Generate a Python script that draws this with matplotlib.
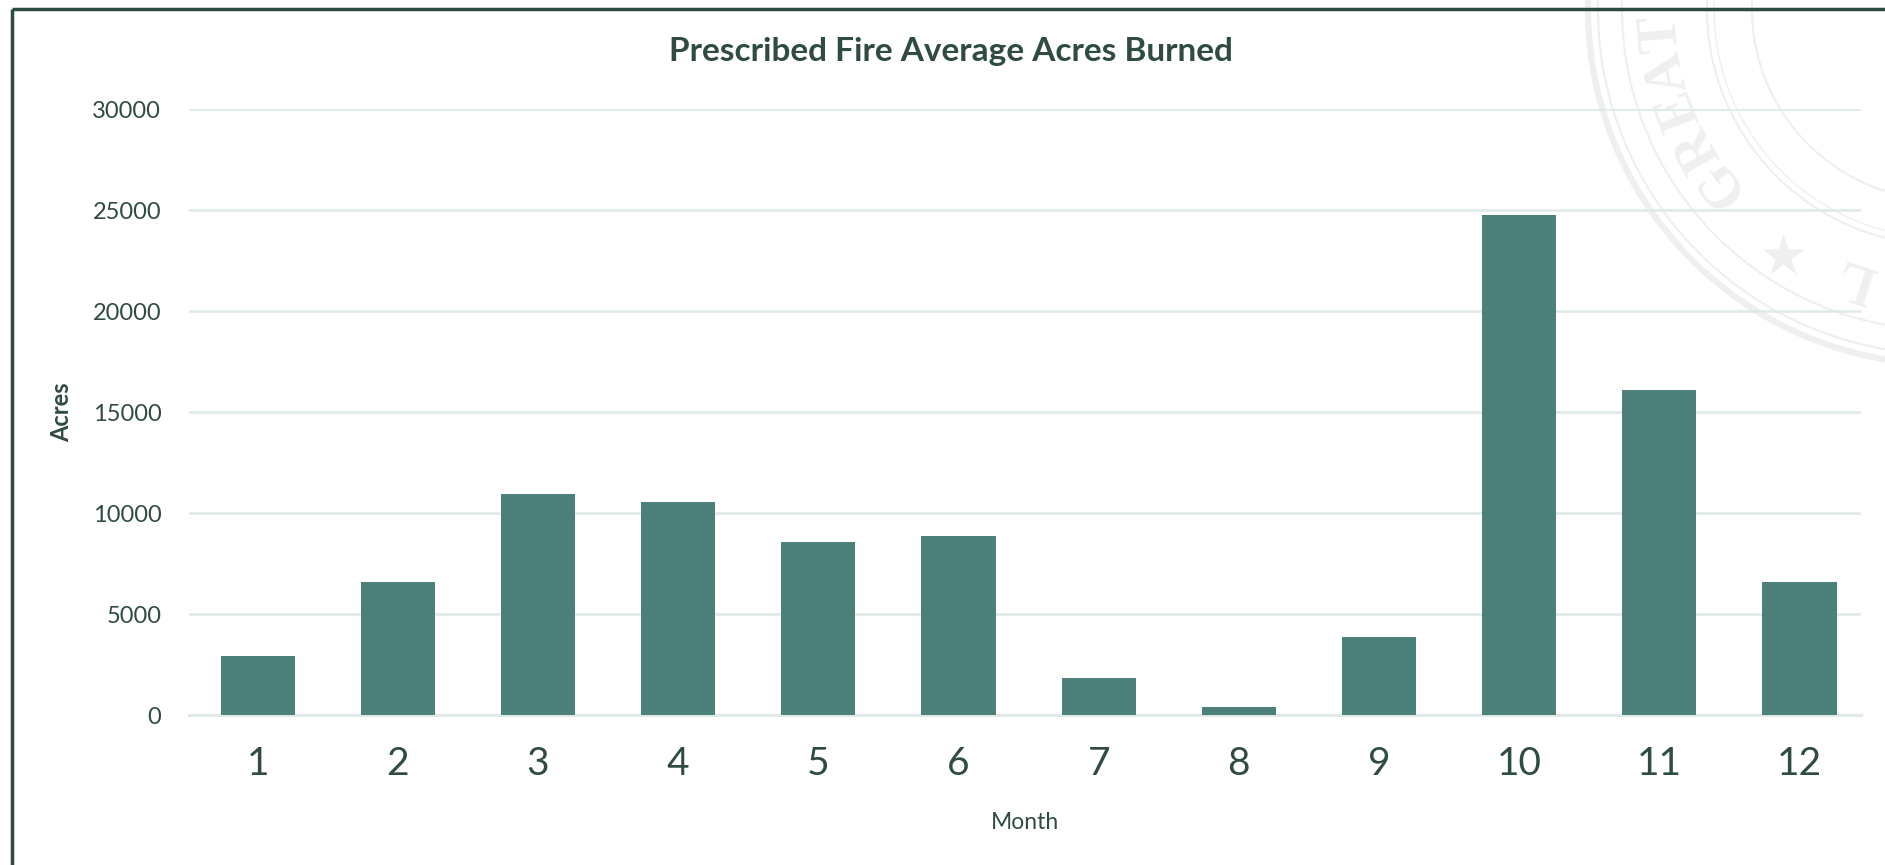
import numpy as np
import matplotlib
matplotlib.use("Agg")
import matplotlib.pyplot as plt

# average prescribed fire acres by month
months = ["1", "2", "3", "4", "5", "6", "7", "8", "9", "10", "11", "12"]
acres = [2900, 6600, 10950, 10550, 8550, 8850, 1850, 400, 3850, 24750, 16100, 6600]
yticks = [0, 5000, 10000, 15000, 20000, 25000, 30000]

bar_color = "#4c807b"
text_color = "#2f4b44"
grid_color = "#dfe9e7"
seal_color = "#efefef"

plt.rcParams['font.family'] = ['Lato', 'DejaVu Sans']

W, H = 1885, 865
fig = plt.figure(figsize=(W / 100, H / 100), dpi=100)

# background layer in pixel coordinates: faint seal + frame
bg = fig.add_axes([0, 0, 1, 1], zorder=0)
bg.set_xlim(0, W)
bg.set_ylim(H, 0)
bg.axis("off")

cx, cy = 1943, 9
for r, lw in [(355, 4.5), (345, 1.5), (321, 1.5), (236, 1.5), (229, 1.0), (191, 1.5)]:
    t = np.linspace(0, 2 * np.pi, 400)
    bg.plot(cx + r * np.cos(t), cy + r * np.sin(t), color=seal_color, lw=lw)
for ch, ang in zip("GREATL", [218, 209.5, 201, 193, 185, 252]):
    a = np.radians(ang)
    bg.text(cx + 282 * np.cos(a), cy - 282 * np.sin(a), ch, rotation=ang - 90,
            fontsize=40, family="Liberation Serif", fontweight="bold", color=seal_color,
            ha="center", va="center", rotation_mode="anchor")
a = np.radians(237)
bg.plot(cx + 294 * np.cos(a), cy - 294 * np.sin(a), marker="*", ms=32,
        color=seal_color, mec="none")

bg.plot([12, 12], [H, 9], color="#2d4a43", lw=2.5, solid_capstyle="butt")
bg.plot([12, W], [9, 9], color="#2d4a43", lw=2.5, solid_capstyle="butt")

ax = fig.add_axes([0.1003, 0.1734, 0.8870, 0.7001], zorder=1)
ax.patch.set_alpha(0)

x = np.arange(len(months))
ax.bar(x, acres, width=0.53, color=bar_color, zorder=3)

ax.set_xlim(-0.49, 11.44)
ax.set_ylim(0, 30000)
ax.set_yticks(yticks)
ax.set_yticklabels([str(v) for v in yticks])
ax.set_xticks(x)
ax.set_xticklabels(months)
ax.grid(axis="y", color=grid_color, linewidth=1.8, zorder=0)
ax.set_axisbelow(True)
for s in ["top", "right", "left"]:
    ax.spines[s].set_visible(False)
ax.spines["bottom"].set_color(grid_color)
ax.spines["bottom"].set_linewidth(2.2)
ax.tick_params(axis="y", length=0, pad=20, labelsize=17, labelcolor=text_color)
ax.tick_params(axis="x", length=0, pad=22, labelsize=28, labelcolor=text_color)

ax.set_xlabel("Month", fontsize=16.5, color=text_color, labelpad=22)
fig.text(951 / W, 1 - 51 / H, "Prescribed Fire Average Acres Burned", fontsize=24,
         fontweight="bold", color=text_color, ha="center", va="center")
fig.text(62 / W, 1 - 412 / H, "Acres", rotation=90, fontsize=17, fontweight="bold",
         color=text_color, ha="center", va="center")

fig.savefig("out.png", dpi=100, facecolor="white")
